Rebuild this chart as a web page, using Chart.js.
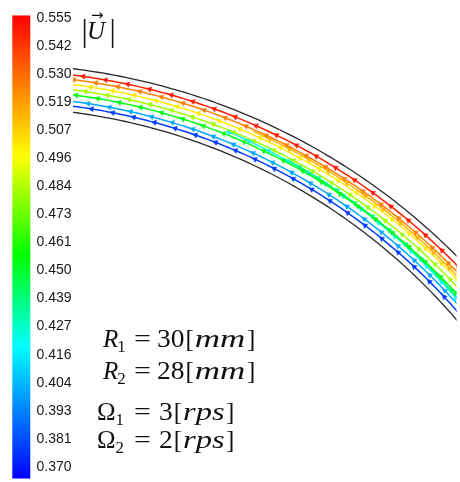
<!DOCTYPE html>
<html><head><meta charset="utf-8">
<script src="https://cdn.jsdelivr.net/npm/chart.js@4/dist/chart.umd.min.js"></script>
<style>html,body{margin:0;padding:0;background:#fff;overflow:hidden}#wrap{width:460px;height:482px;position:relative}</style>
</head><body><div id="wrap"><canvas id="c" width="460" height="482"></canvas></div>
<script>
// ---- colour bar ----
const colorbarTickLabels = ['0.555','0.542','0.530','0.519','0.507','0.496','0.484','0.473','0.461','0.450','0.439','0.427','0.416','0.404','0.393','0.381','0.370'];
const colorbarRange = [0.3651, 0.5563];            // values at bottom / top of the bar
const colormapValues = [0.5563, 0.4982, 0.4574, 0.4196, 0.3651];
const colormapColors = [[255,0,0],[255,255,0],[0,255,0],[0,255,255],[0,0,255]];

// ---- geometry (mm) ----
const wallRadii = [30, 28];                         // outer R1, inner R2
const streamRadiusStart = [29.71, 29.50, 29.36, 29.27, 29.03, 28.80, 28.64, 28.58, 28.50, 28.28];
const streamRadiusEnd   = [29.71, 29.50, 29.42, 29.27, 29.03, 28.80, 28.92, 28.95, 28.50, 28.28];
const streamSpeed       = [0.550, 0.527, 0.515, 0.503, 0.483, 0.455, 0.438, 0.420, 0.401, 0.378];
const streamAngleFrom   = [36, 36, 36, 36, 36, 36, 36, 36, 36, 36];
const streamAngleTo     = [86, 86, 66, 86, 86, 86, 62, 68, 86, 86];
const arrowPhase        = [0, 2, 1, 3, 4, 1, 2, 0, 3, 2];

// ---- annotation text ----
const titleSymbol = 'U';
const paramSymbols = ['R', 'R', 'Ω', 'Ω'];
const paramSubs    = ['1', '2', '1', '2'];
const paramValues  = ['30', '28', '3', '2'];
const paramUnits   = ['mm', 'mm', 'rps', 'rps'];

function colorFor(v){
  const vs = colormapValues, cs = colormapColors;
  if (v >= vs[0]) return cs[0];
  for (let i=0;i<vs.length-1;i++){
    if (v <= vs[i] && v >= vs[i+1]){
      const t = (vs[i]-v)/(vs[i]-vs[i+1]);
      return cs[i].map((c,k)=>Math.round(c + (cs[i+1][k]-c)*t));
    }
  }
  return cs[cs.length-1];
}
const rgb = c => `rgb(${c[0]},${c[1]},${c[2]})`;

function arcPoints(r0, r1, a0, a1){
  const pts = [];
  const step = 0.4;
  const n = Math.round((a1-a0)/step);
  for (let i=0;i<=n;i++){
    const a = a0 + (a1-a0)*i/n;
    const r = r0 + (r1-r0)*i/n;
    const t = a*Math.PI/180;
    pts.push({x: r*Math.cos(t), y: r*Math.sin(t), a});
  }
  return pts;
}

const datasets = [];
wallRadii.forEach(r=>{
  datasets.push({data: arcPoints(r, r, 30, 90), showLine:true, borderColor:'#2a2a2a', borderWidth:1.3, pointRadius:0, clip:0, order:0});
});
streamSpeed.forEach((v,i)=>{
  const col = rgb(colorFor(v));
  const ph = arrowPhase[i];
  datasets.push({
    data: arcPoints(streamRadiusStart[i], streamRadiusEnd[i], streamAngleFrom[i], streamAngleTo[i]),
    showLine:true, borderColor:col, borderWidth:1.5, clip:0,
    pointStyle:'triangle',
    pointRadius: ctx => (ctx.index % 5 === ph ? 3 : 0),
    pointHoverRadius: 0,
    rotation: ctx => -(ctx.raw ? ctx.raw.a : 0),
    pointBackgroundColor: col, pointBorderColor: col, pointBorderWidth: 0.5
  });
});

const lo = parseFloat(colorbarTickLabels[colorbarTickLabels.length-1]);
const hi = parseFloat(colorbarTickLabels[0]);
const nT = colorbarTickLabels.length;

const overlay = {
  id:'overlay',
  afterDraw(chart){
    const ctx = chart.ctx;
    const s = chart.scales.cb;
    // colour bar
    const yTop = s.getPixelForValue(colorbarRange[1]);
    const yBot = s.getPixelForValue(colorbarRange[0]);
    const g = ctx.createLinearGradient(0, yTop, 0, yBot);
    colormapValues.forEach((v,i)=>{
      const f = (s.getPixelForValue(v)-yTop)/(yBot-yTop);
      g.addColorStop(Math.min(1,Math.max(0,f)), rgb(colormapColors[i]));
    });
    ctx.save();
    ctx.fillStyle = g;
    ctx.fillRect(12.3, yTop, 18, yBot-yTop);
    ctx.restore();

    // title |U|
    ctx.save();
    ctx.fillStyle = '#111';
    ctx.textBaseline = 'alphabetic';
    ctx.font = '31px "Liberation Serif"';
    ctx.fillText('|', 81.5, 41);
    ctx.fillText('|', 109.5, 41);
    ctx.font = 'italic 25px "Liberation Serif"';
    ctx.fillText(titleSymbol, 87, 38.5);
    ctx.font = '15px "DejaVu Sans"';
    ctx.fillText('→', 91, 19.5);
    ctx.restore();

    // parameter lines
    const baselines = [347, 379, 420, 448];
    const x0 = [103, 103, 97, 97];
    ctx.save();
    ctx.fillStyle = '#111';
    for (let i=0;i<4;i++){
      const y = baselines[i];
      let x = x0[i];
      const greek = paramSymbols[i] === 'Ω';
      ctx.font = (greek ? '' : 'italic ') + '25px "Liberation Serif"';
      ctx.fillText(paramSymbols[i], x, y);
      x += ctx.measureText(paramSymbols[i]).width + (greek ? 0 : -1);
      ctx.font = '17px "Liberation Serif"';
      ctx.fillText(paramSubs[i], x, y + 5);
      ctx.font = '25px "Liberation Serif"';
      ctx.save(); ctx.translate(134, y); ctx.scale(1.2, 1); ctx.fillText('=', 0, 0); ctx.restore();
      x = greek ? 159 : 157;
      ctx.save(); ctx.translate(x, y); ctx.scale(1.1, 1); ctx.fillText(paramValues[i], 0, 0); ctx.restore();
      x += ctx.measureText(paramValues[i]).width*1.1 + 1;
      ctx.fillText('[', x, y);
      x += ctx.measureText('[').width + 1;
      ctx.font = 'italic 25px "Liberation Serif"';
      const uw = ctx.measureText(paramUnits[i]).width;
      const sx = greek ? 1.3 : 1.4;
      ctx.save(); ctx.translate(x, y); ctx.scale(sx, 1); ctx.fillText(paramUnits[i], 0, 0); ctx.restore();
      x += uw*sx + 1.5;
      ctx.font = '25px "Liberation Serif"';
      ctx.fillText(']', x, y);
    }
    ctx.restore();
  }
};

new Chart(document.getElementById('c'), {
  type:'scatter',
  data:{datasets},
  options:{
    responsive:false, animation:false, devicePixelRatio:1,
    layout:{padding:0},
    plugins:{legend:{display:false}, tooltip:{enabled:false}},
    events:[],
    scales:{
      x:{type:'linear', display:false, min:3.6617, max:21.309},
      y:{type:'linear', display:false, min:10.816, max:32.795},
      cb:{type:'linear', axis:'y', position:'left', min:0.365115, max:0.561225,
        grid:{display:false, drawTicks:false}, border:{display:false},
        afterBuildTicks: s => { s.ticks = colorbarTickLabels.map((l,i)=>({value: lo + (hi-lo)*i/(nT-1)})); },
        ticks:{ padding:1.5, color:'#1a1a1a', font:{family:'"Liberation Sans"', size:14},
          callback:(v,i)=>colorbarTickLabels[nT-1-i] },
        afterFit: s => { s.width = 73; s.paddingTop = 0; s.paddingBottom = 0; s.paddingLeft = 0; s.paddingRight = 0; }
      }
    }
  },
  plugins:[overlay]
});
</script></body></html>
